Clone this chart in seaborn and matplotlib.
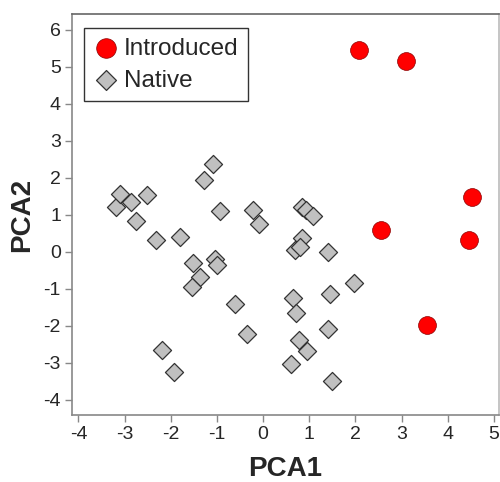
import matplotlib
matplotlib.use("Agg")
import matplotlib.pyplot as plt
import seaborn as sns
import pandas as pd

# valeurs
intro_x = [2.07, 3.09, 4.53, 2.56, 4.45, 3.54]
intro_y = [5.46, 5.17, 1.49, 0.58, 0.31, -1.98]

native_x = [-3.19, -3.10, -2.87, -2.52, -2.76, -1.28, -1.09, -0.93,
            -2.31, -1.79, -1.51, -1.04, -0.99, -1.37, -1.53, -0.61,
            -0.35, -2.18, -1.93, -0.21, -0.08, 0.85, 0.92, 1.09,
            0.84, 0.69, 0.80, 1.40, 1.97, 1.45, 0.64, 0.71,
            1.40, 0.77, 0.96, 0.60, 1.49]
native_y = [1.22, 1.56, 1.36, 1.54, 0.84, 1.95, 2.37, 1.11,
            0.31, 0.40, -0.31, -0.19, -0.35, -0.68, -0.95, -1.41,
            -2.22, -2.65, -3.25, 1.14, 0.75, 1.22, 1.12, 0.98,
            0.37, 0.05, 0.14, -0.01, -0.83, -1.14, -1.25, -1.66,
            -2.09, -2.38, -2.68, -3.04, -3.49]

df = pd.DataFrame({
    'PCA1': intro_x + native_x,
    'PCA2': intro_y + native_y,
    'Origine': ['Introduced'] * len(intro_x) + ['Native'] * len(native_x),
})

sns.set_style('white')
plt.rcParams['font.family'] = ['Liberation Sans', 'DejaVu Sans']
plt.rcParams['axes.unicode_minus'] = False

fig = plt.figure(figsize=(5, 4.82), dpi=100)
ax = fig.add_axes([0.144, 0.139, 0.854, 0.831])

sns.scatterplot(data=df[df['Origine'] == 'Native'], x='PCA1', y='PCA2',
                marker='D', s=85, color='#c0c0c0', edgecolor='#333333',
                linewidth=0.9, label='Native', ax=ax, zorder=2)
sns.scatterplot(data=df[df['Origine'] == 'Introduced'], x='PCA1', y='PCA2',
                marker='o', s=165, color='#ff0000', edgecolor='#8a0000',
                linewidth=0.5, label='Introduced', ax=ax, zorder=3)

ax.set_xlim(-4.14, 5.11)
ax.set_ylim(-4.41, 6.42)
ax.set_xticks(range(-4, 6))
ax.set_yticks(range(-4, 7))
ax.tick_params(labelsize=14, length=5, width=1, color='#888888',
               direction='out', bottom=True, left=True, pad=3)
ax.set_xlabel('PCA1', fontsize=20, fontweight='bold', labelpad=9)
ax.set_ylabel('PCA2', fontsize=20, fontweight='bold', labelpad=6)

for side, col in [('left', '#888888'), ('bottom', '#888888'),
                  ('top', '#666666'), ('right', '#bbbbbb')]:
    ax.spines[side].set_color(col)
    ax.spines[side].set_linewidth(1.2)

handles, labels = ax.get_legend_handles_labels()
order = [labels.index('Introduced'), labels.index('Native')]
leg = ax.legend([handles[i] for i in order], [labels[i] for i in order],
                loc='upper left', bbox_to_anchor=(0.028, 0.966),
                fontsize=17.5, frameon=True, fancybox=False, markerscale=1.1,
                handletextpad=0.25, borderpad=0.4, labelspacing=0.4,
                borderaxespad=0, handlelength=1.0)
leg.get_frame().set_edgecolor('black')
leg.get_frame().set_linewidth(1)

fig.savefig('out.png', dpi=100)
